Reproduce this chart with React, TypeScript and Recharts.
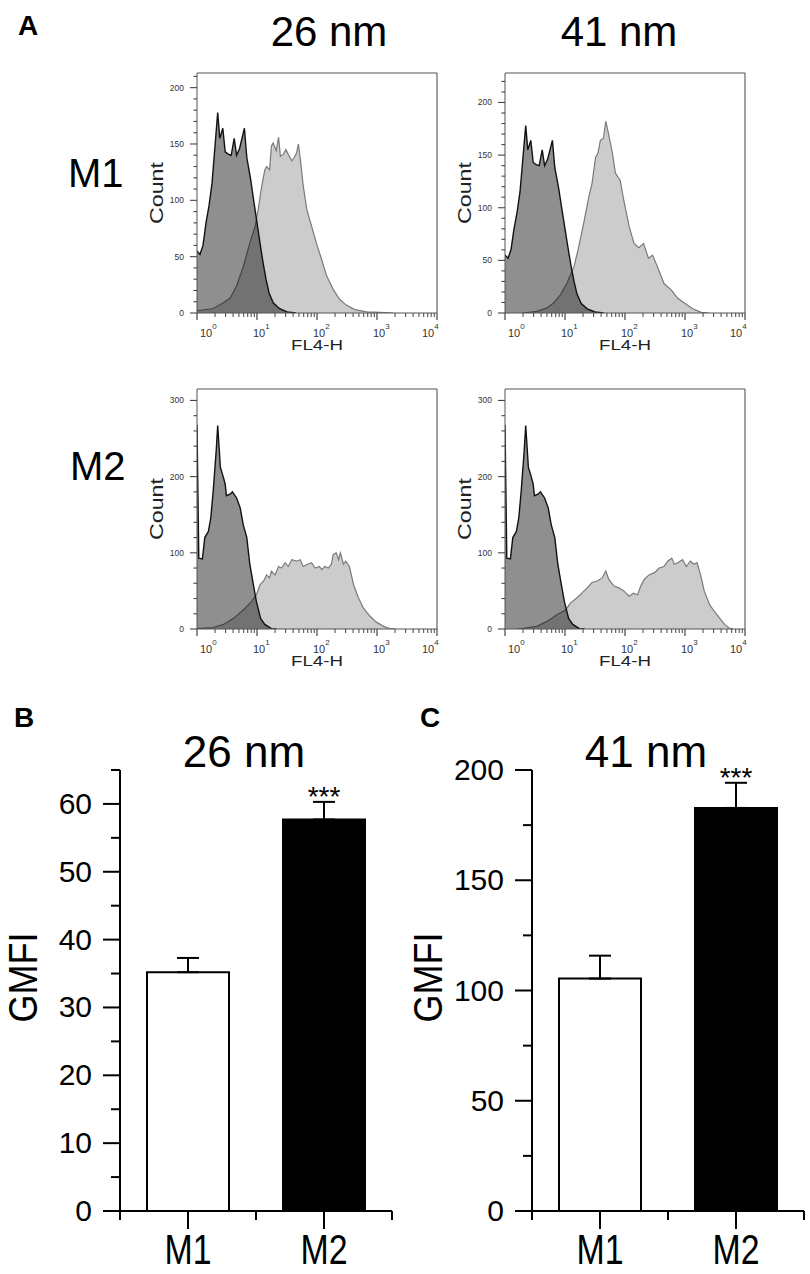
import {
  Area,
  Bar,
  Cell,
  ComposedChart,
  ErrorBar,
  ReferenceDot,
  ReferenceLine,
  XAxis,
  YAxis,
} from 'recharts'

type Pt = [number, number]

const FONT = '"Liberation Sans", Arial, Helvetica, sans-serif'

// Flow histograms as [log10(FL4-H), count].
// Unstained control is the same run in both columns.
const m1Control: Pt[] = [
  [0, 55], [0.05, 52], [0.1, 60], [0.15, 80], [0.2, 95], [0.25, 115], [0.3, 148],
  [0.345, 178], [0.38, 155], [0.43, 164], [0.47, 143], [0.52, 141], [0.57, 140],
  [0.62, 155], [0.66, 140], [0.71, 146], [0.79, 164], [0.83, 138], [0.89, 120],
  [0.95, 98], [1.0, 80], [1.05, 62], [1.1, 45], [1.15, 30], [1.2, 18], [1.27, 9],
  [1.37, 4], [1.5, 1], [1.65, 0],
]
const m1Np26: Pt[] = [
  [0, 2], [0.27, 4], [0.44, 9], [0.55, 13], [0.66, 24], [0.77, 41], [0.88, 62],
  [0.97, 77], [1.02, 92], [1.08, 113], [1.13, 127], [1.16, 130], [1.21, 127],
  [1.24, 148], [1.27, 151], [1.32, 144], [1.36, 156], [1.39, 139], [1.44, 141],
  [1.48, 145], [1.52, 141], [1.58, 135], [1.62, 138], [1.66, 142], [1.69, 150],
  [1.73, 133], [1.77, 113], [1.83, 92], [1.91, 77], [1.99, 62], [2.08, 47],
  [2.16, 33], [2.27, 21], [2.38, 12], [2.49, 7], [2.63, 3], [2.83, 1], [3.05, 0.5],
  [3.27, 0],
]
const m1Np41: Pt[] = [
  [0.3, 0], [0.53, 1.6], [0.7, 5], [0.81, 9.5], [0.92, 17], [1.03, 28], [1.15, 44],
  [1.23, 63], [1.31, 85], [1.4, 111], [1.45, 123], [1.51, 148], [1.55, 152],
  [1.59, 164], [1.64, 166], [1.68, 182], [1.73, 169], [1.79, 152], [1.84, 133],
  [1.92, 126], [1.98, 107], [2.07, 82], [2.15, 66], [2.23, 62], [2.31, 66],
  [2.39, 52], [2.46, 55], [2.54, 44], [2.65, 28], [2.77, 22], [2.88, 14],
  [2.99, 9.5], [3.13, 4], [3.27, 0.6], [3.4, 0],
]
const m2Control: Pt[] = [
  [0, 268], [0.03, 93], [0.09, 92], [0.13, 120], [0.19, 128], [0.23, 146],
  [0.27, 181], [0.32, 234], [0.345, 267], [0.39, 212], [0.44, 199], [0.47, 190],
  [0.49, 175], [0.55, 177], [0.59, 180], [0.66, 172], [0.72, 159], [0.77, 137],
  [0.83, 120], [0.88, 85], [0.94, 58], [0.99, 36], [1.06, 14], [1.13, 6],
  [1.24, 0.4], [1.33, 0],
]
const m2Np26: Pt[] = [
  [0, 0.4], [0.27, 2], [0.44, 6], [0.61, 14], [0.77, 25], [0.91, 36], [0.99, 45],
  [1.05, 58], [1.11, 63], [1.16, 71], [1.21, 67], [1.24, 76], [1.3, 71], [1.36, 82],
  [1.41, 80], [1.47, 87], [1.52, 82], [1.58, 91], [1.66, 89], [1.72, 91], [1.77, 82],
  [1.84, 85], [1.91, 87], [1.97, 80], [2.04, 82], [2.08, 78], [2.13, 82], [2.19, 80],
  [2.24, 85], [2.27, 98], [2.32, 100], [2.36, 91], [2.39, 100], [2.44, 85],
  [2.48, 89], [2.54, 82], [2.61, 58], [2.69, 41], [2.77, 28], [2.88, 17], [2.99, 9],
  [3.11, 3.5], [3.22, 0.4], [3.3, 0],
]
const m2Np41: Pt[] = [
  [0.2, 0], [0.31, 1], [0.53, 3.5], [0.7, 10], [0.87, 19], [1.01, 25], [1.09, 34],
  [1.2, 41], [1.28, 47], [1.37, 54], [1.45, 61], [1.54, 63], [1.62, 67], [1.68, 76],
  [1.73, 65], [1.82, 56], [1.9, 54], [1.98, 50], [2.07, 43], [2.14, 47], [2.21, 45],
  [2.26, 56], [2.32, 65], [2.4, 71], [2.49, 74], [2.57, 80], [2.65, 82], [2.71, 89],
  [2.78, 93], [2.82, 85], [2.88, 87], [2.96, 91], [3.02, 82], [3.09, 89], [3.15, 85],
  [3.2, 87], [3.26, 71], [3.32, 50], [3.41, 32], [3.49, 23], [3.58, 14], [3.66, 6],
  [3.74, 1], [3.8, 0],
]

const countTicksM1a = [0, 10, 20, 30, 40, 50, 60, 70, 80, 90, 100, 110, 120, 130, 140, 150, 160, 170, 180, 190, 200, 210]
const countTicksM1b = [...countTicksM1a, 220]
const countTicksM2 = [0, 20, 40, 60, 80, 100, 120, 140, 160, 180, 200, 220, 240, 260, 280, 300]

// GMFI bar panels
const groups = ['M1', 'M2']
const gmfi26 = [35.2, 57.7]
const sem26 = [2.1, 2.6]
const gmfi41 = [105.4, 182.8]
const sem41 = [10.4, 11.4]
const stars = ['', '***']
const gmfiTicks26 = [0, 5, 10, 15, 20, 25, 30, 35, 40, 45, 50, 55, 60, 65]
const gmfiTicks41 = [0, 25, 50, 75, 100, 125, 150, 175, 200]
const barFills = ['#ffffff', '#000000']

// log decades 10^0..10^4 with the usual 2..9 minor marks
const logTicks = [0, 1, 2, 3]
  .flatMap((d) => [1, 2, 3, 4, 5, 6, 7, 8, 9].map((k) => d + Math.log10(k)))
  .concat(4)

function LogTick(props: any) {
  const { x, y, payload } = props
  const v = payload.value
  const n = Math.round(v)
  if (Math.abs(v - n) > 1e-6) {
    return <line x1={x} x2={x} y1={y} y2={y + 4} stroke="#444" strokeWidth={1} />
  }
  const dx = n === 0 ? 3 : n === 4 ? -15 : -4
  return (
    <g>
      <line x1={x} x2={x} y1={y} y2={y + 7} stroke="#444" strokeWidth={1.2} />
      <text x={x + dx} y={y + 24} fontSize={11} fill="#333" fontFamily={FONT}>
        10
        <tspan dy={-8} fontSize={8}>
          {n}
        </tspan>
      </text>
    </g>
  )
}

function CountTick(props: any) {
  const { x, y, payload, major } = props
  const isMajor = payload.value % major === 0
  return (
    <g>
      <line x1={x - (isMajor ? 7 : 3.5)} x2={x} y1={y} y2={y} stroke="#444" strokeWidth={1.1} />
      {isMajor && (
        <text x={x - 13} y={y + 3} textAnchor="end" fontSize={8.5} fill="#333" fontFamily={FONT}>
          {payload.value}
        </text>
      )}
    </g>
  )
}

const countLabel = (props: any) => {
  const vb = props.viewBox ?? { x: 0, y: 10, width: 60, height: 240 }
  const x = vb.x + 26
  const y = vb.y + vb.height / 2
  return (
    <text
      x={x}
      y={y}
      transform={`rotate(-90 ${x} ${y})`}
      textAnchor="middle"
      fontSize={18}
      textLength={62}
      lengthAdjust="spacingAndGlyphs"
      fill="#222"
      fontFamily={FONT}
    >
      Count
    </text>
  )
}

const flLabel = (props: any) => {
  const vb = props.viewBox ?? { x: 60, y: 250, width: 240, height: 45 }
  return (
    <text
      x={vb.x + vb.width / 2}
      y={vb.y + 37}
      textAnchor="middle"
      fontSize={14}
      textLength={52}
      lengthAdjust="spacingAndGlyphs"
      fill="#222"
      fontFamily={FONT}
    >
      FL4-H
    </text>
  )
}

function Histogram({
  left,
  top,
  control,
  sample,
  yMax,
  ticks,
  major,
}: {
  left: number
  top: number
  control: Pt[]
  sample: Pt[]
  yMax: number
  ticks: number[]
  major: number
}) {
  const rows = [
    ...control.map(([x, y]) => ({ x, ctrl: y })),
    ...sample.map(([x, y]) => ({ x, smp: y })),
  ].sort((a, b) => a.x - b.x)

  return (
    <div style={{ position: 'absolute', left, top }}>
      <ComposedChart
        width={310}
        height={300}
        data={rows}
        margin={{ top: 10, right: 10, bottom: 5, left: 0 }}
      >
        <XAxis
          type="number"
          dataKey="x"
          domain={[0, 4]}
          ticks={logTicks}
          interval={0}
          tick={<LogTick />}
          tickLine={false}
          tickSize={0}
          tickMargin={0}
          axisLine={{ stroke: '#555' }}
          height={45}
          allowDataOverflow
          label={flLabel}
        />
        <YAxis
          type="number"
          domain={[0, yMax]}
          ticks={ticks}
          interval={0}
          tick={<CountTick major={major} />}
          tickLine={false}
          tickSize={0}
          tickMargin={0}
          axisLine={{ stroke: '#555' }}
          width={60}
          allowDataOverflow
          label={countLabel}
        />
        <Area
          dataKey="smp"
          type="linear"
          fill="#000"
          fillOpacity={0.2}
          stroke="#7a7a7a"
          strokeWidth={1.2}
          connectNulls
          dot={false}
          activeDot={false}
          isAnimationActive={false}
        />
        <Area
          dataKey="ctrl"
          type="linear"
          fill="#000"
          fillOpacity={0.44}
          stroke="#111"
          strokeWidth={1.4}
          connectNulls
          dot={false}
          activeDot={false}
          isAnimationActive={false}
        />
        {/* top and right edges of the plot frame */}
        <ReferenceLine y={yMax} stroke="#555" strokeWidth={1.1} ifOverflow="visible" />
        <ReferenceLine x={4} stroke="#555" strokeWidth={1.1} ifOverflow="visible" />
      </ComposedChart>
    </div>
  )
}

function GroupTick(props: any) {
  const { x, y, payload } = props
  const v = payload.value
  const idx = v - 0.5
  if (!Number.isInteger(idx)) {
    return <line x1={x} x2={x} y1={y} y2={y + 9} stroke="#000" strokeWidth={2} />
  }
  return (
    <g>
      <line x1={x} x2={x} y1={y} y2={y + 18} stroke="#000" strokeWidth={2} />
      <text
        x={x}
        y={y + 53}
        textAnchor="middle"
        fontSize={42}
        textLength={47}
        lengthAdjust="spacingAndGlyphs"
        fill="#000"
        fontFamily={FONT}
      >
        {groups[idx]}
      </text>
    </g>
  )
}

function GmfiTick(props: any) {
  const { x, y, payload, labelEvery } = props
  const isMajor = payload.value % labelEvery === 0
  return (
    <g>
      <line x1={x - (isMajor ? 17 : 9)} x2={x} y1={y} y2={y} stroke="#000" strokeWidth={2} />
      {isMajor && (
        <text x={x - 28} y={y + 10} textAnchor="end" fontSize={30} fill="#000" fontFamily={FONT}>
          {payload.value}
        </text>
      )}
    </g>
  )
}

function GmfiPanel({
  left,
  width,
  axisWidth,
  rightMargin,
  values,
  errors,
  yMax,
  ticks,
  labelEvery,
  gmfiX,
}: {
  left: number
  width: number
  axisWidth: number
  rightMargin: number
  values: number[]
  errors: number[]
  yMax: number
  ticks: number[]
  labelEvery: number
  gmfiX: number
}) {
  const rows = groups.map((g, i) => ({
    pos: i + 0.5,
    group: g,
    gmfi: values[i],
    err: [0, errors[i]],
  }))

  const gmfiLabel = (props: any) => {
    const vb = props.viewBox ?? { x: 0, y: 70, width: axisWidth, height: 441 }
    const x = vb.x + gmfiX
    const y = vb.y + vb.height / 2 - 13
    return (
      <text
        x={x}
        y={y}
        transform={`rotate(-90 ${x} ${y})`}
        textAnchor="middle"
        fontSize={40}
        textLength={90}
        lengthAdjust="spacingAndGlyphs"
        fill="#000"
        fontFamily={FONT}
      >
        GMFI
      </text>
    )
  }

  return (
    <div style={{ position: 'absolute', left, top: 700 }}>
      <ComposedChart
        width={width}
        height={574}
        data={rows}
        margin={{ top: 70, right: rightMargin, bottom: 3, left: 0 }}
      >
        <XAxis
          type="number"
          dataKey="pos"
          domain={[0, 2]}
          ticks={[0, 0.5, 1, 1.5, 2]}
          interval={0}
          tick={<GroupTick />}
          tickLine={false}
          tickSize={0}
          tickMargin={0}
          axisLine={{ stroke: '#000', strokeWidth: 2 }}
          height={60}
        />
        <YAxis
          type="number"
          domain={[0, yMax]}
          ticks={ticks}
          interval={0}
          tick={<GmfiTick labelEvery={labelEvery} />}
          tickLine={false}
          tickSize={0}
          tickMargin={0}
          axisLine={{ stroke: '#000', strokeWidth: 2 }}
          width={axisWidth}
          label={gmfiLabel}
        />
        <Bar dataKey="gmfi" barSize={82} stroke="#000" strokeWidth={2} isAnimationActive={false}>
          {rows.map((r, i) => (
            <Cell key={r.group} fill={barFills[i]} />
          ))}
          <ErrorBar dataKey="err" direction="y" width={11} stroke="#000" strokeWidth={2} />
        </Bar>
        {rows.map((r, i) =>
          stars[i] ? (
            <ReferenceDot
              key={`star-${r.group}`}
              x={r.pos}
              y={r.gmfi + errors[i]}
              r={0}
              fill="none"
              stroke="none"
              label={(p: any) => {
                const vb = p.viewBox ?? { x: 0, y: 0, width: 0, height: 0 }
                return (
                  <text
                    x={vb.x + vb.width / 2}
                    y={vb.y + vb.height / 2 + 4}
                    textAnchor="middle"
                    fontSize={28}
                    fill="#000"
                    fontFamily={FONT}
                  >
                    {stars[i]}
                  </text>
                )
              }}
            />
          ) : null,
        )}
      </ComposedChart>
    </div>
  )
}

export default function App() {
  return (
    <div
      style={{
        position: 'absolute',
        left: 0,
        top: 0,
        width: 810,
        height: 1274,
        background: '#fff',
        fontFamily: FONT,
        overflow: 'hidden',
      }}
    >
      <Histogram left={137} top={63} control={m1Control} sample={m1Np26} yMax={213} ticks={countTicksM1a} major={50} />
      <Histogram left={445} top={63} control={m1Control} sample={m1Np41} yMax={228} ticks={countTicksM1b} major={50} />
      <Histogram left={137} top={379} control={m2Control} sample={m2Np26} yMax={315} ticks={countTicksM2} major={100} />
      <Histogram left={445} top={379} control={m2Control} sample={m2Np41} yMax={315} ticks={countTicksM2} major={100} />

      <GmfiPanel
        left={0}
        width={400}
        axisWidth={120}
        rightMargin={8}
        values={gmfi26}
        errors={sem26}
        yMax={65}
        ticks={gmfiTicks26}
        labelEvery={10}
        gmfiX={37}
      />
      <GmfiPanel
        left={400}
        width={410}
        axisWidth={132}
        rightMargin={6}
        values={gmfi41}
        errors={sem41}
        yMax={200}
        ticks={gmfiTicks41}
        labelEvery={50}
        gmfiX={42}
      />

      <svg
        width={810}
        height={1274}
        style={{ position: 'absolute', left: 0, top: 0, pointerEvents: 'none' }}
        fontFamily={FONT}
      >
        <text x={18} y={35} fontSize={28} fontWeight="bold">A</text>
        <text x={329} y={46} fontSize={42} textAnchor="middle">26 nm</text>
        <text x={619} y={46} fontSize={42} textAnchor="middle">41 nm</text>
        <text x={68} y={187} fontSize={40}>M1</text>
        <text x={70} y={480} fontSize={40}>M2</text>
        <text x={14} y={727} fontSize={28} fontWeight="bold">B</text>
        <text x={420} y={727} fontSize={28} fontWeight="bold">C</text>
        <text x={244} y={767} fontSize={44} textAnchor="middle">26 nm</text>
        <text x={646} y={767} fontSize={44} textAnchor="middle">41 nm</text>
      </svg>
    </div>
  )
}
